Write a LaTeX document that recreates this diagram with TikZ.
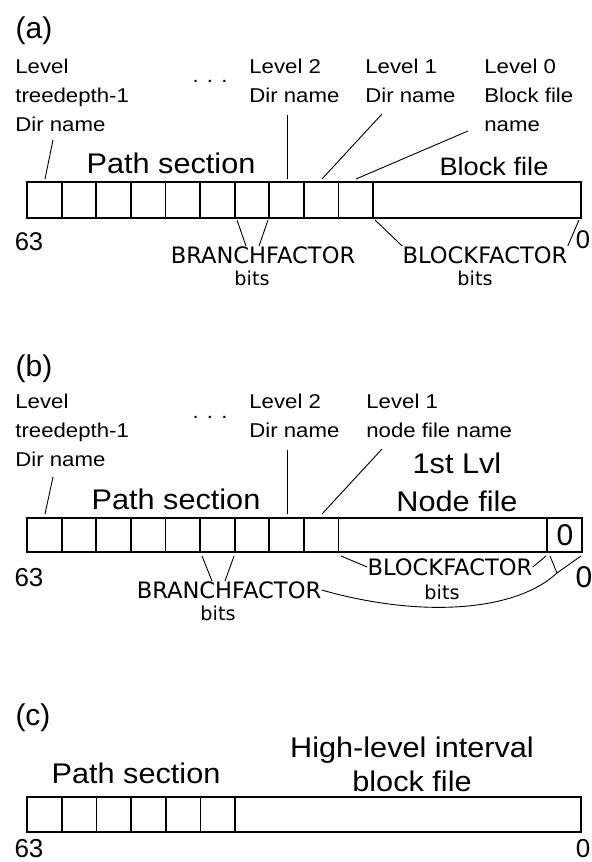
\documentclass[tikz,border=0pt]{standalone}
\usepackage{fontspec}
\setmainfont{Liberation Sans}
\newfontfamily\lblfont{Liberation Sans}[FakeStretch=1.11]
\newfontfamily\bigfont{Liberation Sans}[FakeStretch=1.08]
\newfontfamily\bitfont{DejaVu Sans}

\begin{document}
\begin{tikzpicture}[x=0.5pt, y=-0.5pt,
	every node/.style={inner sep=0pt},
	box/.style={line width=0.9pt},
	leader/.style={line width=0.45pt},
	lbl/.style={anchor=north west, align=left, font=\lblfont\fontsize{10}{14.5}\selectfont},
	big/.style={anchor=base, font=\bigfont\fontsize{14.2}{16}\selectfont},
	tag/.style={font=\fontsize{15}{16}\selectfont},
	fac/.style={font=\bitfont\fontsize{11.3}{13}\selectfont},
	bits/.style={font=\bitfont\fontsize{9.6}{11}\selectfont}]
	\useasboundingbox (0,0) rectangle (592,862);

	% (a) block file layout
	\node[tag] (tagA) at (34,31) {(a)};
	\node[lbl] (tdA) at (15,59) {Level\\treedepth-1\\Dir name};
	\node[lbl, anchor=base] (dotsA) at (210,82) {. . .};
	\node[lbl] (lvtwoA) at (249,59) {Level 2\\Dir name};
	\node[lbl] (lvoneA) at (365,59) {Level 1\\Dir name};
	\node[lbl] (lvzeroA) at (484,59) {Level 0\\Block file\\name};
	\node[big] (pathA) at (171,173) {Path section};
	\node[big, font=\bigfont\fontsize{12.6}{16}\selectfont] (blockA) at (494,175) {Block file};
	\draw[box] (27,182) rectangle (581,218);
	\foreach \k in {1,...,10} \draw[box] (27+34.6*\k,182) -- ++(0,36);
	\node[font=\fontsize{12.8}{14}\selectfont] (hiA) at (29,242) {63};
	\node[font=\fontsize{12.8}{14}\selectfont] (loA) at (583,240) {0};
	\node[fac] (bfA) at (263,255) {BRANCHFACTOR};
	\node[bits] (bfbitsA) at (252,278) {bits};
	\node[fac] (kfA) at (485,255) {BLOCKFACTOR};
	\node[bits] (kfbitsA) at (475,278) {bits};
	\path (53,140) coordinate (tdAp) (45,179) coordinate (tdAq)
		(287,115) coordinate (lvtwoAp) (287,179) coordinate (lvtwoAq)
		(382,114) coordinate (lvoneAp) (322,179) coordinate (lvoneAq)
		(468,131) coordinate (lvzeroAp) (356,179) coordinate (lvzeroAq)
		(237,220) coordinate (bfAl) (268,220) coordinate (bfAr)
		(375,220) coordinate (kfAl) (579,220) coordinate (kfAr);
	\draw[leader] (tdAp) -- (tdAq);
	\draw[leader] (lvtwoAp) -- (lvtwoAq);
	\draw[leader] (lvoneAp) -- (lvoneAq);
	\draw[leader] (lvzeroAp) -- (lvzeroAq);
	\draw[leader] (bfAl) -- (bfA.north -| 246,0) (bfAr) -- (bfA.north -| 259,0);
	\draw[leader] (kfAl) -- (kfA.north west) (kfAr) -- (kfA.north east);

	% (b) node file layout
	\node[tag] (tagB) at (34,369) {(b)};
	\node[lbl] (tdB) at (15,394) {Level\\treedepth-1\\Dir name};
	\node[lbl, anchor=base] (dotsB) at (210,418) {. . .};
	\node[lbl] (lvtwoB) at (249,394) {Level 2\\Dir name};
	\node[lbl] (lvoneB) at (366,394) {Level 1\\node file name};
	\node[big] (pathB) at (176,509) {Path section};
	\node[big] (lvlB) at (457,473) {1st Lvl};
	\node[big] (nodeB) at (457,511) {Node file};
	\draw[box] (27,518) rectangle (582,552);
	\foreach \k in {1,...,9} \draw[box] (27+34.6*\k,518) -- ++(0,34);
	\draw[box] (547,518) -- (547,552);
	\node[font=\fontsize{15}{16}\selectfont] (zeroB) at (565,535) {0};
	\node[font=\fontsize{13}{14}\selectfont] (hiB) at (29,578) {63};
	\node[font=\fontsize{15}{16}\selectfont] (loB) at (584,577) {0};
	\node[fac] (bfB) at (229,590) {BRANCHFACTOR};
	\node[bits] (bfbitsB) at (218,613) {bits};
	\node[fac] (kfB) at (450,567) {BLOCKFACTOR};
	\node[bits] (kfbitsB) at (442,592) {bits};
	\path (53,477) coordinate (tdBp) (45,514) coordinate (tdBq)
		(287,450) coordinate (lvtwoBp) (287,514) coordinate (lvtwoBq)
		(382,449) coordinate (lvoneBp) (322,514) coordinate (lvoneBq)
		(202,556) coordinate (bfBl) (234,556) coordinate (bfBr)
		(341,556) coordinate (kfBl) (546,556) coordinate (kfBr)
		(550,556) coordinate (zBl) (581,556) coordinate (zBr)
		(557,573) coordinate (zB);
	\draw[leader] (tdBp) -- (tdBq);
	\draw[leader] (lvtwoBp) -- (lvtwoBq);
	\draw[leader] (lvoneBp) -- (lvoneBq);
	\draw[leader] (bfBl) -- (bfB.north -| 212,0) (bfBr) -- (bfB.north -| 225,0);
	\draw[leader] (kfBl) -- (kfB.west) (kfBr) -- (kfB.east);
	\draw[leader] (zBl) -- (zB) -- (zBr);
	\draw[leader] (zB) .. controls (515,612) and (420,618) .. (bfB.east);

	% (c) high-level interval layout
	\node[tag] (tagC) at (33,718) {(c)};
	\node[big] (hiC) at (412,757) {High-level interval};
	\node[big] (blockC) at (412,791) {block file};
	\node[big] (pathC) at (136,783) {Path section};
	\draw[box] (27,797) rectangle (581,832);
	\foreach \k in {1,...,6} \draw[box] (27+34.7*\k,797) -- ++(0,35);
	\node[font=\fontsize{13}{14}\selectfont] (hiC) at (29,849) {63};
	\node[font=\fontsize{13}{14}\selectfont] (loC) at (583,849) {0};
\end{tikzpicture}
\end{document}
